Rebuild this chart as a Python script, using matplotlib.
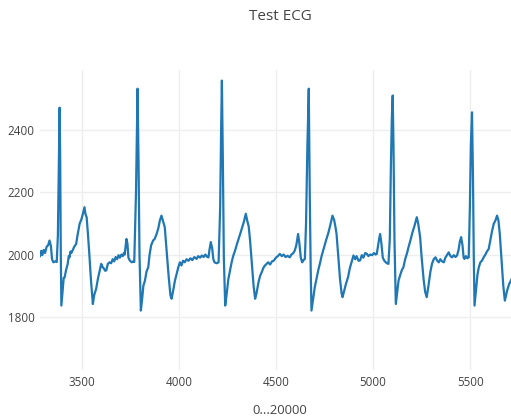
import matplotlib
matplotlib.use("Agg")
import matplotlib.pyplot as plt

# sample index and ECG amplitude
sample = [
    3286, 3292, 3298, 3305, 3312, 3320, 3328, 3335, 3342, 3348, 3355, 3365, 3372,
    3378, 3384, 3387, 3390, 3393, 3396, 3402, 3408, 3413, 3420, 3428, 3434, 3438,
    3443, 3447, 3455, 3462, 3472, 3480, 3490, 3500, 3508, 3515, 3520, 3526, 3532,
    3540, 3548, 3558, 3565, 3575, 3584, 3592, 3601, 3608, 3615, 3621, 3627, 3635,
    3644, 3652, 3660, 3668, 3675, 3683, 3690, 3697, 3705, 3712, 3718, 3722, 3727,
    3731, 3736, 3741, 3748, 3758, 3766, 3771, 3780, 3788, 3793, 3798, 3805, 3812,
    3818, 3826, 3834, 3843, 3850, 3858, 3868, 3876, 3886, 3895, 3903, 3911, 3918,
    3928, 3938, 3948, 3957, 3963, 3970, 3980, 3989, 3998, 4006, 4014, 4022, 4031,
    4040, 4050, 4060, 4070, 4080, 4092, 4100, 4110, 4119, 4128, 4137, 4145, 4153,
    4158, 4165, 4172, 4178, 4184, 4195, 4205, 4213, 4218, 4222, 4227, 4232, 4239,
    4246, 4255, 4264, 4272, 4280, 4290, 4300, 4308, 4316, 4325, 4335, 4345, 4352,
    4360, 4367, 4375, 4385, 4393, 4400, 4410, 4419, 4428, 4436, 4444, 4452, 4460,
    4470, 4480, 4490, 4500, 4510, 4520, 4530, 4540, 4550, 4560, 4571, 4580, 4590,
    4597, 4605, 4610, 4614, 4620, 4628, 4635, 4642, 4649, 4655, 4662, 4669, 4674,
    4679, 4683, 4690, 4700, 4710, 4718, 4726, 4735, 4744, 4752, 4760, 4770, 4780,
    4791, 4800, 4806, 4812, 4820, 4830, 4838, 4843, 4850, 4860, 4871, 4880, 4889,
    4899, 4908, 4915, 4925, 4933, 4942, 4950, 4960, 4968, 4976, 4985, 4995, 5005,
    5012, 5019, 5026, 5031, 5036, 5042, 5050, 5057, 5065, 5072, 5079, 5086, 5092,
    5097, 5101, 5105, 5110, 5117, 5124, 5131, 5140, 5148, 5156, 5165, 5175, 5182,
    5192, 5202, 5212, 5225, 5232, 5242, 5250, 5260, 5268, 5276, 5285, 5295, 5303,
    5312, 5321, 5330, 5338, 5346, 5355, 5364, 5372, 5380, 5389, 5398, 5406, 5415,
    5424, 5432, 5440, 5446, 5453, 5460, 5466, 5470, 5478, 5485, 5492, 5498, 5503,
    5509, 5514, 5518, 5522, 5530, 5537, 5544, 5552, 5560, 5569, 5578, 5586, 5595,
    5603, 5612, 5621, 5630, 5638, 5645, 5652, 5660, 5670, 5678, 5690, 5700, 5709,
    5720, 5735,
]
ecg = [
    1995, 2012, 1998, 2015, 2005, 2025, 2030, 2045, 2028, 1985, 1975, 1978, 1976,
    2060, 2350, 2472, 2300, 2000, 1836, 1880, 1925, 1927, 1950, 1968, 1995, 1991,
    2010, 2005, 2015, 2025, 2034, 2065, 2099, 2115, 2135, 2152, 2130, 2120, 2072,
    2000, 1920, 1841, 1870, 1890, 1922, 1945, 1970, 1960, 1955, 1948, 1949, 1970,
    1975, 1972, 1985, 1978, 1992, 1985, 1998, 1990, 2000, 1995, 2005, 2000, 2030,
    2050, 2035, 1990, 1981, 1975, 1978, 1976, 2200, 2533, 2300, 2000, 1820, 1860,
    1900, 1916, 1945, 1959, 2000, 2030, 2045, 2050, 2066, 2085, 2110, 2125, 2110,
    2088, 2010, 1930, 1870, 1858, 1880, 1915, 1938, 1960, 1975, 1965, 1980, 1975,
    1985, 1980, 1988, 1982, 1992, 1986, 1995, 1990, 1997, 1992, 2000, 1993, 1991,
    2015, 2040, 2020, 1985, 1975, 1972, 1975, 2150, 2400, 2559, 2300, 1990, 1836,
    1870, 1920, 1949, 1975, 1995, 2013, 2035, 2050, 2066, 2085, 2105, 2131, 2110,
    2090, 2045, 1980, 1900, 1858, 1875, 1910, 1932, 1945, 1958, 1965, 1970, 1975,
    1968, 1978, 1981, 1990, 1995, 2002, 1995, 2000, 1992, 1996, 1991, 2000, 2005,
    2013, 2030, 2050, 2066, 2040, 1990, 1975, 1982, 1986, 2100, 2350, 2533, 2200,
    1950, 1820, 1850, 1895, 1925, 1950, 1970, 1995, 2015, 2034, 2050, 2070, 2095,
    2125, 2110, 2090, 2066, 2000, 1920, 1875, 1863, 1880, 1905, 1927, 1955, 1975,
    1997, 1985, 1995, 1980, 1981, 1998, 1990, 2005, 2002, 1995, 2000, 1998, 2005,
    2000, 2002, 2030, 2050, 2066, 2040, 1990, 1981, 1975, 1972, 1970, 2050, 2300,
    2450, 2511, 2350, 2050, 1841, 1880, 1916, 1935, 1950, 1959, 1985, 2005, 2023,
    2045, 2070, 2090, 2120, 2100, 2056, 1990, 1920, 1880, 1863, 1900, 1945, 1970,
    1985, 1991, 1980, 1975, 1985, 1978, 1975, 1990, 1998, 2007, 1995, 1991, 1998,
    1992, 1997, 2015, 2040, 2056, 2030, 1990, 1986, 1995, 1988, 1991, 2150, 2350,
    2457, 2250, 2000, 1836, 1890, 1935, 1959, 1975, 1980, 1991, 2000, 2010, 2018,
    2045, 2075, 2099, 2110, 2125, 2110, 2066, 1990, 1900, 1852, 1885, 1905, 1916,
    1930, 1940,
]
x_ticks = [3500, 4000, 4500, 5000, 5500]
y_ticks = [1800, 2000, 2200, 2400]

plt.rcParams['font.family'] = ['Open Sans', 'DejaVu Sans']

fig = plt.figure(figsize=(5.11, 4.2), dpi=100)
ax = fig.add_axes([40 / 511, 50 / 420, 480 / 511, 300 / 420])

ax.plot(sample, ecg, color='#1f77b4', linewidth=1.6)

ax.set_xlim(3286, 5756)
ax.set_ylim(1629, 2593)
ax.set_xticks(x_ticks)
ax.set_yticks(y_ticks)
ax.grid(True, color='#eeeeee', linewidth=1)
ax.set_axisbelow(True)
for s in ax.spines.values():
    s.set_visible(False)
ax.tick_params(length=0, labelsize=8.4, labelcolor='#444444', pad=4)

fig.text(280 / 511, 1 - 17 / 420, "Test ECG", ha='center', va='center',
         fontsize=11, color='#444444')
fig.text(280 / 511, 1 - 411 / 420, "0...20000", ha='center', va='center',
         fontsize=9.4, color='#444444')

fig.savefig("out.png", dpi=100)
